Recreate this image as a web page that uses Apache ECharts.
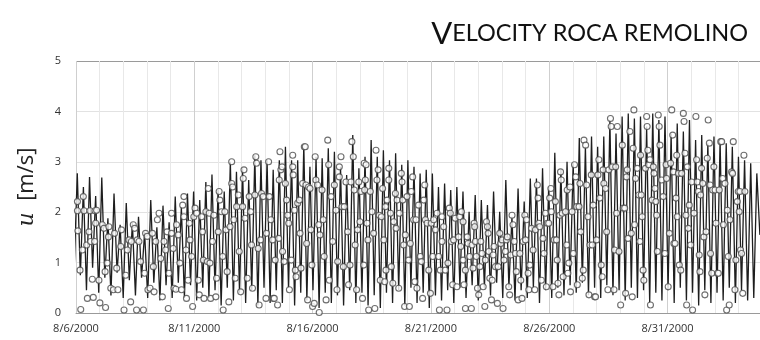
<!DOCTYPE html>
<html>
<head>
<meta charset="utf-8">
<script src="https://cdn.jsdelivr.net/npm/echarts@6/dist/echarts.min.js"></script>
<style>
  html, body { margin: 0; padding: 0; background: #fff; }
  #chart { width: 760px; height: 340px; }
</style>
</head>
<body>
<div id="chart"></div>
<script>
// start of the record: 8/6/2000 00:00, x values are days from it
const startDate = Date.UTC(2000, 7, 6)
const xMaxDays = 28.91
const labelEveryDays = 5

// model speed: one peak every 6.21 h, troughs in between
const halfStepHours = 3.105
const firstTroughHours = -1.8

const peaks = [
  2.77, 2.5, 2.7, 2.32, 2.69, 1.88, 2.37, 1.75, 2.18, 1.78, 1.91, 1.6, 2.24, 1.7, 2.13, 1.8,
  2.31, 2.1, 2.37, 2.41, 2.24, 2.6, 2.75, 2.44, 2.41, 3.0, 2.8, 2.87, 2.64, 3.13, 3.03, 3.03,
  2.84, 3.03, 3.3, 3.03, 3.03, 3.33, 2.9, 3.1, 3.07, 3.27, 3.2, 2.9, 2.74, 3.53, 2.87, 3.1,
  3.43, 3.1, 3.23, 3.03, 3.17, 2.94, 3.03, 2.9, 2.77, 2.84, 2.77, 2.5, 2.57, 2.44, 2.5,
  2.41, 2.01, 2.34, 2.24, 2.14, 2.41, 2.01, 2.64, 1.91, 2.47, 2.21, 2.67, 2.67, 2.87, 2.5, 3.18,
  2.84, 3.0, 2.97, 3.47, 3.3, 3.5, 3.3, 3.5, 3.83, 3.56, 3.9, 3.96, 3.86, 3.9, 3.7, 3.96,
  3.83, 3.9, 3.56, 3.76, 3.6, 3.83, 3.43, 3.53, 3.37, 3.5, 3.43, 3.37, 3.3, 3.1, 3.03, 2.97, 2.77
]

const troughs = [
  0.9,
  0.75, 0.45, 0.9, 0.4, 0.7, 0.35, 0.8, 0.3, 0.65, 0.35, 0.7, 0.3, 0.6, 0.25, 0.55, 0.3,
  0.6, 0.3, 0.55, 0.25, 0.5, 0.3, 0.45, 0.15, 0.5, 0.25, 0.4, 0.2, 0.45, 0.15, 0.5, 0.2,
  0.45, 0.2, 0.5, 0.15, 0.4, 0.25, 0.45, 0.1, 0.4, 0.2, 0.35, 0.15, 0.45, 0.2, 0.4, 0.15,
  0.35, 0.1, 0.4, 0.2, 0.45, 0.15, 0.5, 0.2, 0.4, 0.1, 0.35, 0.25, 0.45, 0.2, 0.5,
  0.3, 0.55, 0.25, 0.5, 0.35, 0.6, 0.3, 0.5, 0.25, 0.45, 0.3, 0.5, 0.2, 0.45, 0.3, 0.5,
  0.35, 0.55, 0.4, 0.6, 0.35, 0.5, 0.3, 0.55, 0.35, 0.45, 0.25, 0.5, 0.3, 0.45, 0.2,
  0.4, 0.25, 0.45, 0.2, 0.5, 0.25, 0.4, 0.15, 0.45, 0.2, 0.4, 0.25, 0.5, 0.2, 0.45, 0.25, 0.3,
  1.55
]

// measured speed [day, m/s]
const observed = [
  [0.06,2.21],[0.06,2.03],[0.08,1.63],[0.17,0.85],[0.2,0.07],[0.27,1.25],[0.31,2.31],[0.34,2.03],[0.45,1.35],[0.48,0.29],
  [0.55,1.61],[0.59,2.03],[0.62,1.42],[0.69,0.67],[0.73,0.31],[0.79,1.42],[0.8,2.03],[0.83,1.78],[0.87,2.04],[0.97,0.65],
  [1.01,0.2],[1.11,1.75],[1.18,1.68],[1.23,0.82],[1.25,0.11],[1.32,0.99],[1.37,1.51],[1.39,1.71],[1.47,0.49],[1.58,0.46],
  [1.63,1.58],[1.72,0.89],[1.77,0.46],[1.89,1.32],[1.92,1.65],[2.03,0.06],[2.1,0.75],[2.17,1.25],[2.24,1.45],[2.31,0.22],
  [2.34,1.42],[2.42,1.75],[2.48,1.68],[2.56,0.06],[2.59,1.45],[2.66,1.42],[2.73,1.02],[2.85,0.06],[2.9,0.79],[2.94,1.58],
  [3.01,1.52],[3.04,0.46],[3.13,0.49],[3.23,1.58],[3.27,0.92],[3.3,0.42],[3.37,1.42],[3.44,1.85],[3.51,1.98],[3.58,1.08],
  [3.65,0.32],[3.72,1.42],[3.79,1.25],[3.85,1.61],[3.9,0.09],[3.93,0.79],
  [4.04,1.98],[4.04,1.58],[4.11,1.28],[4.14,0.49],[4.22,0.47],[4.25,1.75],[4.32,1.55],[4.39,0.99],[4.46,0.46],[4.51,2.14],
  [4.56,2.31],[4.56,1.91],[4.65,1.25],[4.67,0.29],[4.74,0.65],[4.79,1.78],[4.82,1.45],[4.89,1.12],[4.93,0.13],[4.98,1.91],
  [5.03,2.08],[5.1,1.98],[5.17,0.65],[5.21,0.36],[5.31,1.91],[5.35,1.61],[5.38,1.05],[5.41,0.29],[5.49,2.01],[5.55,1.02],
  [5.59,2.47],[5.63,1.98],[5.66,0.99],[5.69,0.29],[5.77,1.42],[5.83,1.94],[5.91,0.32],[5.94,0.69],[6.01,1.61],[6.05,2.41],
  [6.08,2.24],[6.15,2.01],[6.2,1.12],[6.22,0.06],[6.29,2.01],[6.34,1.65],[6.39,0.82],[6.46,0.22],[6.51,1.71],[6.58,3.0],
  [6.58,2.57],[6.62,2.5],[6.67,1.85],[6.73,0.69],[6.79,2.11],[6.86,2.34],[6.9,1.22],[6.96,0.42],[7.04,2.11],[7.07,2.67],
  [7.1,2.84],[7.14,1.88],[7.24,0.69],[7.32,2.31],[7.38,2.01],[7.42,1.35],[7.46,0.49],[7.56,2.34],[7.6,3.1],[7.63,2.97],
  [7.7,1.28],[7.74,0.16],[7.8,1.45],[7.84,2.37],[7.91,2.31],[8.03,0.29],[8.05,1.58],
  [8.14,3.0],[8.17,2.31],[8.24,1.85],[8.31,1.45],[8.34,0.29],[8.38,0.29],[8.42,1.05],[8.52,0.16],[8.57,1.48],[8.59,2.64],
  [8.62,3.2],[8.66,2.84],[8.71,2.9],[8.73,1.22],[8.8,1.02],[8.85,2.57],[8.9,2.24],[8.95,1.94],[8.99,1.78],[9.02,0.46],
  [9.1,1.05],[9.16,3.13],[9.16,2.9],[9.18,2.74],[9.23,2.04],[9.27,0.85],[9.3,0.72],[9.37,2.18],[9.44,2.24],[9.47,1.58],
  [9.51,0.89],[9.58,2.57],[9.65,3.3],[9.69,3.3],[9.72,2.54],[9.75,1.38],[9.79,0.26],[9.83,2.5],[9.89,2.47],[9.93,1.65],
  [9.97,0.95],[10.0,0.13],[10.07,0.19],[10.11,3.1],[10.14,2.64],[10.21,2.54],[10.26,1.75],[10.28,0.01],[10.31,1.55],[10.4,2.44],
  [10.45,1.85],[10.49,1.12],[10.57,0.26],[10.64,3.43],[10.68,2.94],[10.71,0.65],[10.78,2.31],[10.85,1.42],[10.92,2.54],[10.99,2.04],
  [11.03,0.46],[11.06,1.02],[11.13,2.9],[11.13,2.7],[11.2,3.1],[11.24,2.11],[11.3,0.92],[11.34,2.11],[11.41,2.6],[11.48,1.61],
  [11.52,0.56],[11.58,0.95],[11.62,2.6],[11.66,3.4],[11.72,3.1],[11.76,2.44],[11.8,1.35],[11.86,0.46],[11.9,1.65],[11.95,2.6],
  [12.0,1.81],[12.04,2.41],[12.11,0.29],[12.18,2.97],
  [12.16,0.95],[12.2,2.44],[12.23,2.64],[12.26,2.94],[12.3,1.78],[12.34,1.45],[12.37,0.06],[12.44,2.41],[12.51,2.01],[12.58,1.58],
  [12.63,0.09],[12.68,3.23],[12.72,2.64],[12.77,2.84],[12.82,1.94],[12.86,0.65],[12.91,1.91],[12.96,2.47],[13.01,1.45],[13.05,0.62],
  [13.08,2.11],[13.1,0.85],[13.15,2.24],[13.22,2.87],[13.22,2.64],[13.29,1.98],[13.33,0.92],[13.39,0.59],[13.43,1.81],[13.5,2.37],
  [13.53,1.68],[13.57,2.24],[13.64,0.49],[13.67,1.98],[13.75,2.77],[13.78,2.6],[13.81,2.24],[13.85,1.35],[13.89,0.13],[13.92,1.55],
  [13.99,2.31],[14.06,1.05],[14.09,0.13],[14.13,1.38],[14.17,2.41],[14.23,2.7],[14.27,1.85],[14.32,0.62],[14.37,1.85],[14.41,0.49],
  [14.48,2.14],[14.55,1.12],[14.6,1.02],[14.65,0.29],[14.7,2.24],[14.74,2.54],[14.77,1.85],[14.84,1.78],[14.91,0.85],[14.98,0.39],
  [15.02,1.78],[15.08,1.12],[15.12,1.85],[15.19,1.65],[15.26,1.98],[15.33,1.12],[15.36,0.06],[15.4,0.85],[15.47,1.91],[15.47,1.42],
  [15.54,1.71],[15.61,0.85],[15.68,0.06],[15.72,0.99],[15.78,2.08],[15.82,1.98],[15.86,1.42],[15.92,0.56],[15.96,1.45],[16.03,1.88],
  [16.1,0.52],[16.17,1.51],
  [16.22,1.91],[16.26,1.32],[16.29,2.01],[16.36,1.81],[16.36,1.05],[16.4,0.56],[16.46,0.09],[16.46,0.85],[16.54,1.51],[16.57,1.38],
  [16.64,1.12],[16.71,0.09],[16.74,1.35],[16.78,0.89],[16.83,1.78],[16.85,1.71],[16.88,1.42],[16.92,1.12],[16.97,0.49],[17.02,0.36],
  [17.07,0.92],[17.11,1.42],[17.16,1.18],[17.21,0.52],[17.28,0.13],[17.3,1.05],[17.35,1.81],[17.39,1.71],[17.42,1.58],[17.45,1.22],
  [17.49,0.69],[17.56,0.26],[17.59,0.65],[17.63,1.15],[17.67,1.32],[17.73,0.92],[17.81,0.19],[17.84,0.92],[17.91,1.58],[17.95,1.38],
  [18.01,1.45],[18.05,0.09],[18.09,1.05],[18.15,1.22],[18.19,1.45],[18.23,1.51],[18.29,0.52],[18.33,0.36],[18.38,1.15],[18.43,1.94],
  [18.47,1.75],[18.52,1.42],[18.57,1.18],[18.61,0.82],[18.69,0.26],[18.76,1.18],[18.8,0.65],[18.85,0.29],[18.9,1.42],[18.97,1.94],
  [19.0,1.45],[19.04,1.85],[19.11,0.79],[19.14,0.46],[19.18,0.95],[19.25,1.68],[19.32,1.25],[19.39,0.46],[19.42,1.65],[19.5,2.54],
  [19.53,2.28],[19.56,1.78],[19.6,1.71],[19.67,0.65],[19.74,1.48],[19.78,1.18],[19.84,1.98],[19.88,0.52],[19.92,1.78],[19.98,1.78],
  [20.02,2.28],[20.07,2.47],[20.09,2.01],[20.16,0.52],[20.21,1.45],[20.26,2.21],
  [20.31,1.45],[20.34,1.05],[20.37,0.59],[20.41,0.36],[20.45,1.94],[20.48,2.8],[20.51,2.64],[20.55,1.98],[20.59,0.72],[20.69,2.01],
  [20.74,1.35],[20.76,2.44],[20.79,0.79],[20.83,0.99],[20.88,2.5],[20.9,0.42],[20.97,2.01],[21.02,1.18],[21.07,2.94],[21.12,2.7],
  [21.16,2.11],[21.19,0.56],[21.26,2.11],[21.3,2.57],[21.33,1.61],[21.4,0.69],[21.44,0.85],[21.47,3.43],[21.54,3.33],[21.58,2.54],
  [21.64,1.91],[21.68,0.36],[21.72,1.35],[21.78,2.74],[21.82,1.35],[21.86,2.14],[21.92,0.32],[21.96,0.32],[22.0,1.45],[22.06,2.74],
  [22.1,3.04],[22.14,2.28],[22.2,0.95],[22.24,0.72],[22.28,2.84],[22.31,2.57],[22.38,2.47],[22.43,1.61],[22.48,0.46],[22.52,2.84],
  [22.59,3.86],[22.62,3.7],[22.66,2.9],[22.74,0.46],[22.76,1.25],[22.81,2.9],[22.85,1.98],[22.88,3.7],[22.95,1.22],[23.02,0.16],
  [23.09,3.33],[23.13,2.08],[23.19,2.08],[23.23,0.39],[23.27,2.7],[23.3,2.84],[23.33,1.48],[23.41,3.6],[23.47,1.58],[23.51,0.32],
  [23.55,3.27],[23.58,4.03],[23.61,1.75],[23.65,2.67],[23.72,2.87],[23.79,2.34],[23.83,1.42],[23.86,3.13],[23.89,2.34],[23.93,1.91],
  [23.97,0.85],[24.0,0.65],[24.07,2.87],[24.12,3.9],[24.14,3.7],[24.17,3.23],[24.21,2.94],[24.26,3.04],[24.28,0.16],[24.35,2.24],
  [24.4,2.9],[24.43,2.77],[24.47,2.47],[24.51,2.21],[24.54,1.94],[24.57,1.22],[24.61,3.93],[24.65,3.7],[24.68,3.33],[24.75,2.64],
  [24.82,2.31],[24.89,1.18],[24.94,2.94],[24.96,2.67],[25.03,0.52],[25.08,1.58],[25.13,2.97],[25.18,4.03],[25.22,3.53],[25.25,2.8],
  [25.27,1.38],[25.32,1.38],[25.36,2.28],[25.39,3.13],[25.41,1.91],[25.46,2.77],[25.5,0.95],[25.56,0.85],[25.6,2.77],[25.67,3.96],
  [25.7,3.8],[25.74,3.17],[25.78,1.94],[25.81,0.16],[25.84,2.9],[25.88,1.68],[25.92,2.14],[25.98,1.35],[26.02,2.6],[26.06,0.06],
  [26.12,1.98],[26.2,3.9],[26.23,3.04],[26.26,2.6],[26.3,2.41],[26.34,1.15],[26.37,0.82],[26.4,2.34],[26.44,2.87],[26.49,2.57],
  [26.54,1.51],[26.58,0.36],[26.63,1.61],[26.68,3.07],[26.72,3.83],[26.77,3.37],[26.8,2.54],[26.82,1.18],[26.87,0.79],[26.91,2.44],
  [26.96,2.9],[27.01,2.44],[27.05,1.78],[27.11,0.79],[27.15,0.79],[27.19,2.44],[27.25,3.4],[27.29,3.4],[27.33,2.67],[27.36,1.75],
  [27.43,2.57],[27.5,0.06],[27.53,2.04],[27.57,1.12],[27.61,0.16],[27.64,1.85],[27.71,2.8],[27.75,2.77],[27.78,3.4],[27.85,0.46],
  [27.89,1.05],[27.95,2.21],[27.99,2.41],[28.03,2.01],[28.06,2.41],[28.09,1.25],[28.13,1.18],[28.18,0.39],[28.23,3.13],[28.27,2.41]
]

// interleave troughs and peaks on the tidal time grid
const modelLine = []
troughs.forEach((t, j) => {
  modelLine.push([(firstTroughHours + 2 * j * halfStepHours) / 24, t])
  if (j < peaks.length) {
    modelLine.push([(firstTroughHours + (2 * j + 1) * halfStepHours) / 24, peaks[j]])
  }
})

const dayLabel = v => {
  const r = Math.round(v)
  if (Math.abs(v - r) > 1e-6 || r % labelEveryDays !== 0) return ''
  const d = new Date(startDate + r * 86400000)
  return (d.getUTCMonth() + 1) + '/' + d.getUTCDate() + '/' + d.getUTCFullYear()
}

const chart = echarts.init(document.getElementById('chart'))

chart.setOption({
  animation: false,
  title: {
    text: '{a|V}{b|ELOCITY ROCA REMOLINO}',
    right: 7,
    top: 13,
    textStyle: {
      fontWeight: 'normal',
      rich: {
        a: { fontSize: 31, fontFamily: 'Lato', fontWeight: 'normal', color: '#111' },
        b: { fontSize: 23.5, fontFamily: 'Lato', fontWeight: 'normal', color: '#111' }
      }
    }
  },
  grid: { left: 76, right: 0, top: 61, bottom: 27 },
  xAxis: {
    type: 'value',
    min: 0,
    max: xMaxDays,
    interval: 1,
    axisLine: { show: true, lineStyle: { color: '#9a9a9a' } },
    axisTick: { show: false },
    axisLabel: {
      formatter: dayLabel,
      margin: 10,
      fontSize: 11,
      fontFamily: 'Open Sans',
      color: '#333',
      showMaxLabel: false
    },
    splitLine: {
      show: true,
      lineStyle: { color: ['#cfcfcf', '#e8e8e8', '#e8e8e8', '#e8e8e8', '#e8e8e8'], width: 1 }
    }
  },
  yAxis: {
    type: 'value',
    min: 0,
    max: 5,
    interval: 1,
    name: '{i|u}  [m/s]',
    nameLocation: 'middle',
    nameGap: 38,
    nameTextStyle: {
      fontSize: 22,
      fontFamily: 'Open Sans',
      color: '#222',
      rich: {
        i: { fontSize: 22, fontStyle: 'italic', fontFamily: 'DejaVu Serif', color: '#222' }
      }
    },
    axisLine: { show: false },
    axisTick: { show: false },
    axisLabel: { margin: 15, fontSize: 11, fontFamily: 'Open Sans', color: '#333' },
    splitLine: {
      show: true,
      lineStyle: { color: ['#bdbdbd', '#e2e2e2', '#e2e2e2', '#e2e2e2', '#e2e2e2', '#9a9a9a'] }
    }
  },
  series: [
    {
      name: 'model',
      type: 'line',
      data: modelLine,
      showSymbol: false,
      clip: true,
      lineStyle: { color: '#1e1e1e', width: 1.3 },
      z: 2
    },
    {
      name: 'observed',
      type: 'scatter',
      data: observed,
      symbol: 'circle',
      symbolSize: 6,
      itemStyle: { color: '#fff', borderColor: '#4a4a4a', borderWidth: 1.1 },
      z: 3
    }
  ]
})
</script>
</body>
</html>
